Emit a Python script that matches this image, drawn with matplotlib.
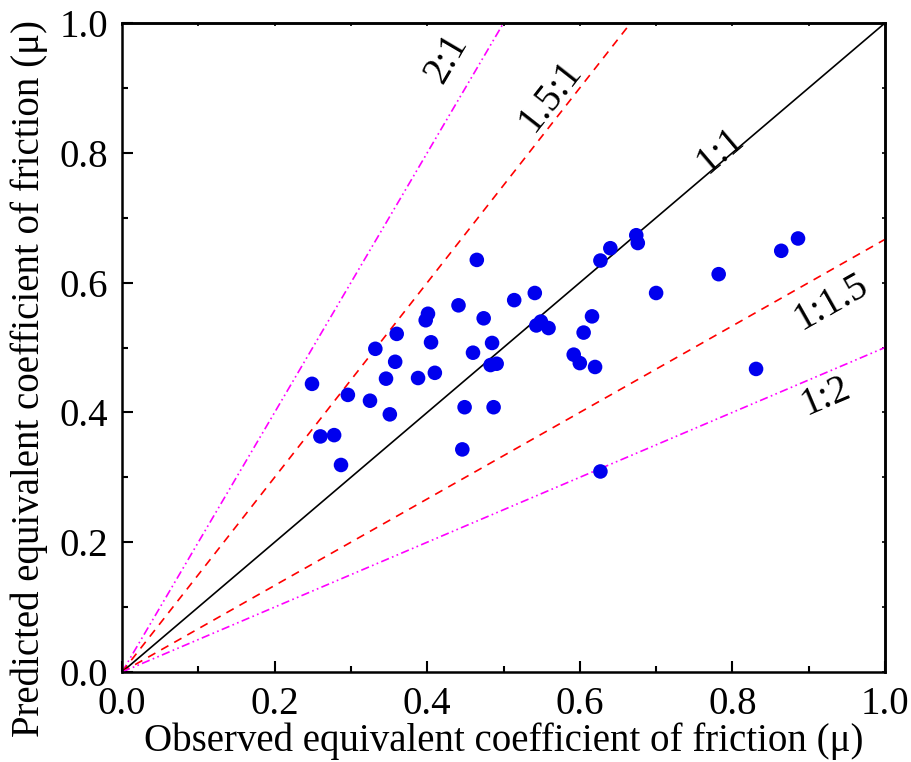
import numpy as np
import matplotlib.pyplot as plt
from matplotlib.ticker import MultipleLocator, NullFormatter

plt.rcParams['font.family'] = ['Liberation Serif', 'DejaVu Serif']

# observed vs predicted values
observed = [0.249, 0.260, 0.278, 0.287, 0.296, 0.325, 0.332, 0.346, 0.351, 0.358,
            0.360, 0.388, 0.398, 0.401, 0.405, 0.410, 0.441, 0.446, 0.449, 0.460,
            0.465, 0.474, 0.485, 0.487, 0.483, 0.491, 0.514, 0.541, 0.543, 0.549,
            0.559, 0.592, 0.600, 0.620, 0.605, 0.616, 0.627, 0.627, 0.640, 0.674,
            0.676, 0.700, 0.782, 0.831, 0.864, 0.886]
predicted = [0.444, 0.363, 0.365, 0.319, 0.427, 0.418, 0.498, 0.452, 0.397, 0.478,
             0.521, 0.453, 0.542, 0.552, 0.508, 0.461, 0.565, 0.343, 0.408, 0.492,
             0.635, 0.545, 0.507, 0.408, 0.473, 0.475, 0.573, 0.584, 0.534, 0.540,
             0.530, 0.489, 0.476, 0.470, 0.523, 0.548, 0.309, 0.634, 0.653, 0.673,
             0.661, 0.584, 0.613, 0.467, 0.649, 0.668]

ratios = [2.0, 1.5, 1.0, 1 / 1.5, 0.5]
ratio_labels = ['2:1', '1.5:1', '1:1', '1:1.5', '1:2']
ratio_colors = ['magenta', 'red', 'black', 'red', 'magenta']
ratio_styles = [(0, (5, 2, 1, 2, 1, 2)), (0, (5, 4)), '-', (0, (5, 4)), (0, (5, 2, 1, 2, 1, 2))]
label_pos = [(0.426, 0.945), (0.562, 0.888), (0.785, 0.804), (0.929, 0.570), (0.923, 0.425)]

fig = plt.figure(figsize=(9.12, 7.62), dpi=100)
ax = fig.add_axes([0.1338, 0.1181, 0.8366, 0.8517])

xs = np.array([0.0, 1.0])
for r, lab, c, ls, pos in zip(ratios, ratio_labels, ratio_colors, ratio_styles, label_pos):
    ax.plot(xs, r * xs, color=c, linestyle=ls, linewidth=1.2, zorder=2)
    # rotate label along line in screen space
    p0 = ax.transData.transform((0, 0))
    p1 = ax.transData.transform((0.5, 0.5 * r))
    ang = np.degrees(np.arctan2(p1[1] - p0[1], p1[0] - p0[0]))
    ax.text(pos[0], pos[1], lab, rotation=ang, fontsize=28, ha='center', va='center',
            rotation_mode='anchor')

ax.scatter(observed, predicted, s=110, color='#0000ee', zorder=3, edgecolors='none')

ax.set_xlim(0, 1)
ax.set_ylim(0, 1)
ax.xaxis.set_major_locator(MultipleLocator(0.2))
ax.yaxis.set_major_locator(MultipleLocator(0.2))
ax.xaxis.set_minor_locator(MultipleLocator(0.1))
ax.yaxis.set_minor_locator(MultipleLocator(0.1))
ax.tick_params(which='both', direction='in', labelsize=28, width=1.5)
ax.tick_params(which='major', length=8)
ax.tick_params(which='minor', length=4)
ax.tick_params(axis='x', pad=10)
ax.tick_params(axis='y', pad=10)
ax.set_xticklabels([f'{v:.1f}' for v in ax.get_xticks()])
ax.set_yticklabels([f'{v:.1f}' for v in ax.get_yticks()])
for s in ax.spines.values():
    s.set_linewidth(1.8)

# tiny ticks on top and right
top = ax.secondary_xaxis('top')
right = ax.secondary_yaxis('right')
for sec in (top.xaxis, right.yaxis):
    sec.set_major_locator(MultipleLocator(0.2))
    sec.set_minor_locator(MultipleLocator(0.1))
    sec.set_major_formatter(NullFormatter())
top.tick_params(which='both', direction='in', length=2, width=1.2)
right.tick_params(which='both', direction='in', length=2, width=1.2)
top.spines['top'].set_linewidth(1.8)
right.spines['right'].set_linewidth(1.8)

ax.set_xlabel('Observed equivalent coefficient of friction (μ)', fontsize=28, labelpad=0)
ax.set_ylabel('Predicted equivalent coefficient of friction (μ)', fontsize=28)
ax.yaxis.set_label_coords(-0.097, 0.453)

plt.savefig('out.png', dpi=100)
